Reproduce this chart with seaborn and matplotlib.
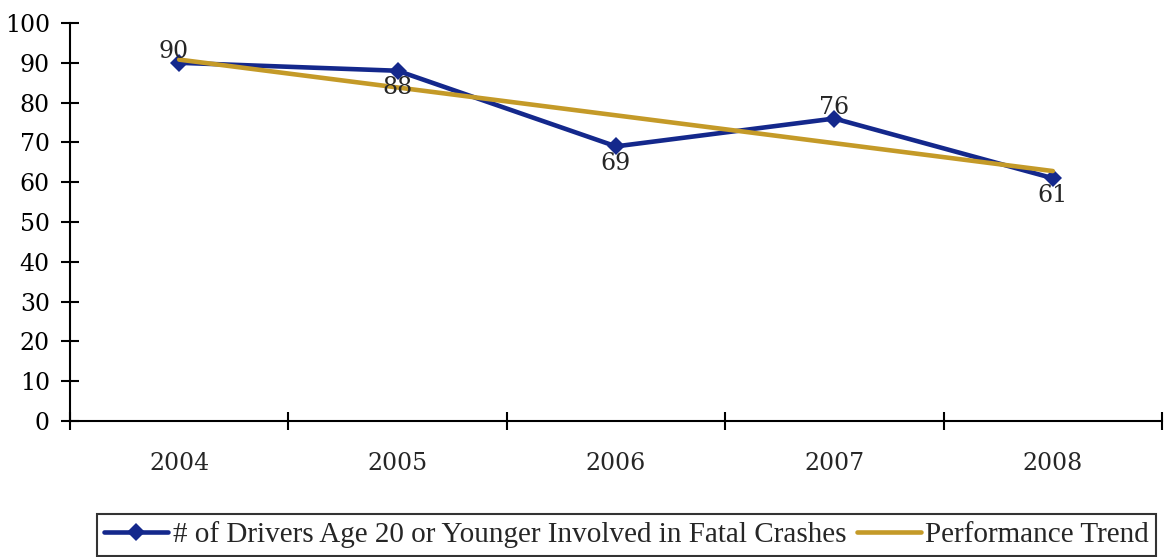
import matplotlib
matplotlib.use("Agg")
import matplotlib.pyplot as plt
import seaborn as sns
import pandas as pd

years = ["2004", "2005", "2006", "2007", "2008"]
drivers = [90, 88, 69, 76, 61]
trend = [90.8, 83.8, 76.8, 69.8, 62.8]
label_above = [True, False, False, True, False]

sns.set_theme(style="white")
plt.rcParams["font.family"] = ["DejaVu Serif", "Liberation Serif"]

df = pd.DataFrame({"pos": range(len(years)), "drivers": drivers, "trend": trend})

fig = plt.figure(figsize=(11.65, 5.57), dpi=100)
ax = fig.add_axes([70 / 1165, 1 - 421 / 557, 1092 / 1165, 398 / 557])

navy = "#14288c"
gold = "#c49a28"

sns.lineplot(data=df, x="pos", y="drivers", ax=ax, color=navy, lw=3.3,
             marker="D", markersize=9, markeredgewidth=0,
             label="# of Drivers Age 20 or Younger Involved in Fatal Crashes")
sns.lineplot(data=df, x="pos", y="trend", ax=ax, color=gold, lw=3.3,
             label="Performance Trend")

for i, v in enumerate(drivers):
    if label_above[i]:
        ax.annotate(str(v), (i, v), xytext=(-4 if i == 0 else 0, 0),
                    textcoords="offset points", ha="center", va="bottom", fontsize=17)
    else:
        ax.annotate(str(v), (i, v), xytext=(0, -4), textcoords="offset points",
                    ha="center", va="top", fontsize=17)

ax.set_xlim(-0.5, len(years) - 0.5)
ax.set_ylim(0, 100)
ax.set_yticks(range(0, 101, 10))
ax.set_xticks([x - 0.5 for x in range(len(years) + 1)])
ax.set_xticklabels([])
ax.set_xticks(range(len(years)), minor=True)
ax.set_xticklabels(years, minor=True)
ax.set_xlabel("")
ax.set_ylabel("")

for s in ["top", "right"]:
    ax.spines[s].set_visible(False)
for s in ["left", "bottom"]:
    ax.spines[s].set_color("black")
    ax.spines[s].set_linewidth(1.5)

ax.tick_params(axis="y", which="major", direction="inout", length=13, width=1.5,
               colors="black", labelsize=17, pad=8, left=True)
ax.tick_params(axis="x", which="major", direction="inout", length=13, width=1.5,
               colors="black", bottom=True)
ax.tick_params(axis="x", which="minor", length=0, labelsize=17, pad=22, bottom=True)

leg = ax.legend(loc="upper left", bbox_to_anchor=(97 / 1165, 1 - 514 / 557),
                bbox_transform=fig.transFigure, ncol=2, frameon=True, fancybox=False,
                prop={"family": "Liberation Serif", "size": 21},
                handlelength=2.2, columnspacing=0.35, handletextpad=0.15,
                borderpad=0.25, borderaxespad=0)
leg.get_frame().set_edgecolor("black")
leg.get_frame().set_linewidth(1.5)

fig.savefig("out.png", dpi=100)
